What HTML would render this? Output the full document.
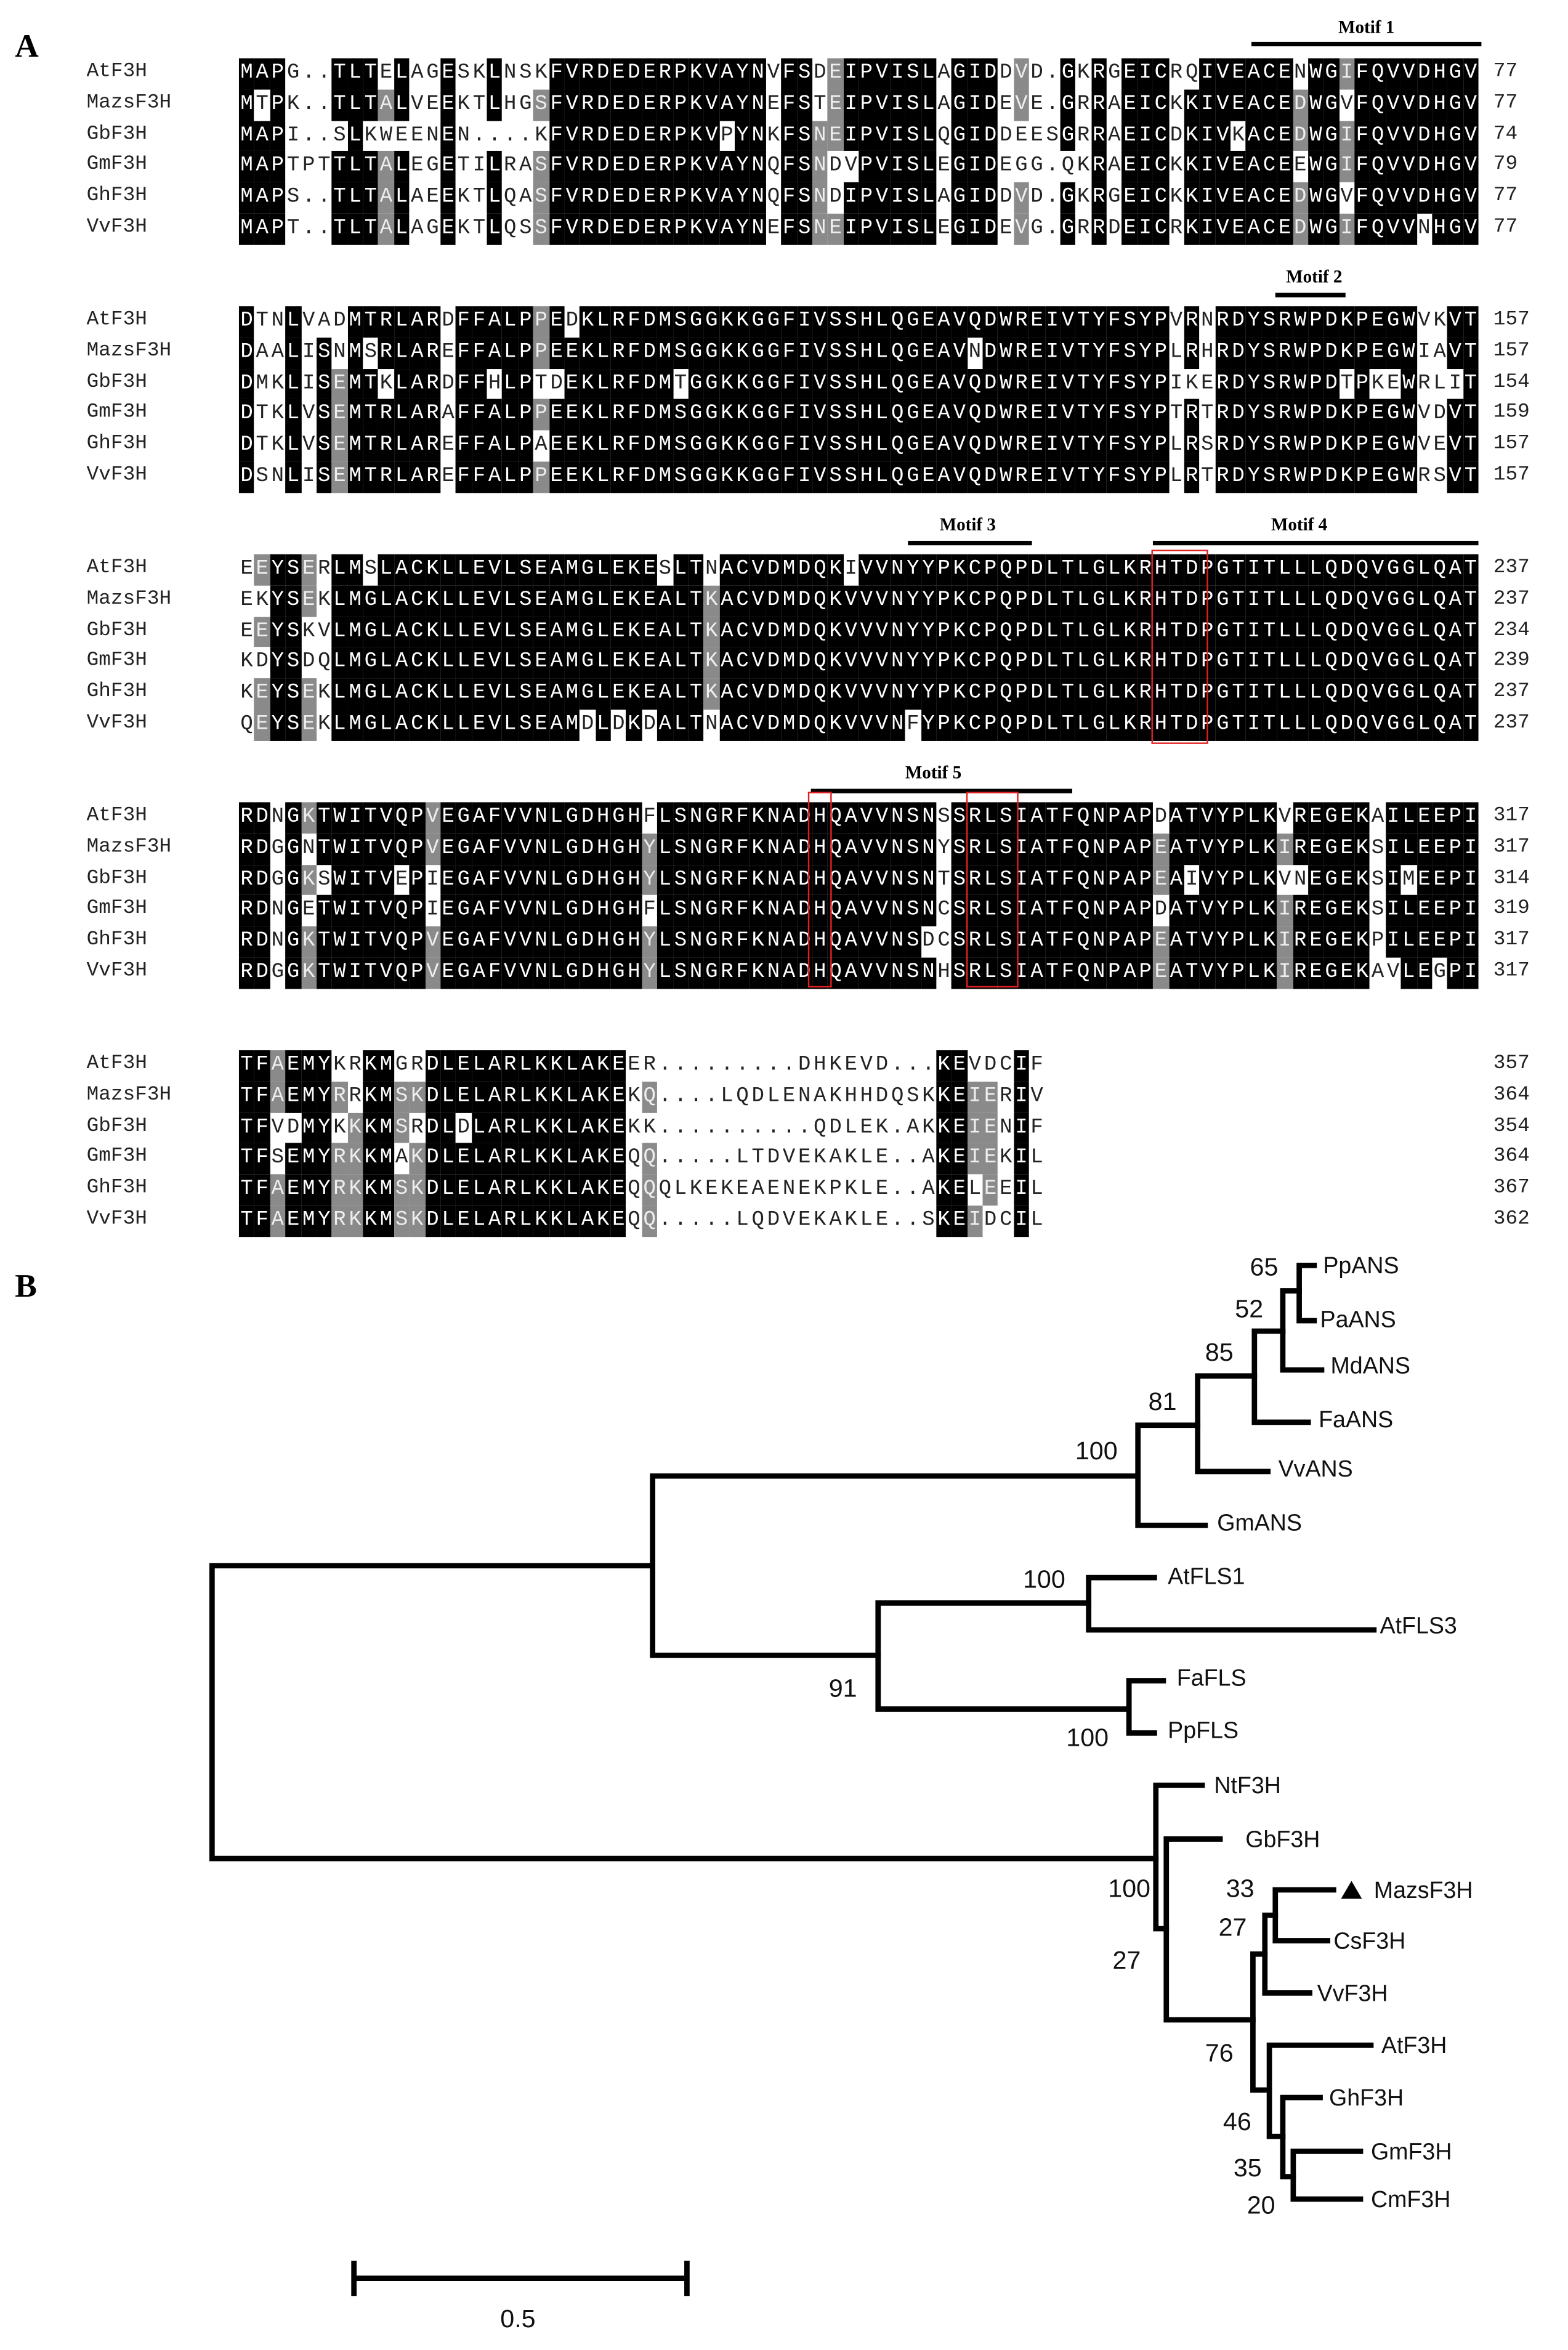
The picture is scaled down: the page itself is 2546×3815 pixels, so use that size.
<!DOCTYPE html>
<html><head><meta charset="utf-8">
<style>
html,body{margin:0;padding:0;background:#fff;}
body{width:2546px;height:3815px;overflow:hidden;position:relative;}
#w{position:absolute;left:0;top:0;width:1050px;height:1573px;transform:scale(2.4248,2.4253);transform-origin:0 0;}
.c{position:absolute;width:10.4px;height:20.8px;line-height:20.8px;text-align:center;font-family:"Liberation Mono",monospace;font-size:14px;color:#222;}
.b{background:#000;color:#fff;}
.g{background:#8a8a8a;color:#eee;}
.nm{position:absolute;left:58px;font-family:"Liberation Mono",monospace;font-size:13.5px;line-height:20.8px;color:#222;}
.num{position:absolute;left:1000px;font-family:"Liberation Mono",monospace;font-size:13.5px;line-height:20.8px;color:#222;}
.mt{position:absolute;font-family:"Liberation Serif",serif;font-weight:bold;font-size:12px;transform:translateX(-50%);white-space:nowrap;}
.ml{position:absolute;height:2.5px;background:#000;}
.rb{position:absolute;border:1.5px solid #e02020;box-sizing:border-box;}
.pl{position:absolute;font-family:"Liberation Serif",serif;font-weight:bold;font-size:22px;}
</style></head><body>
<div id="w">
<div class="pl" style="left:10px;top:18px;">A</div>
<div class="pl" style="left:10px;top:848px;">B</div>
<div id="aln"></div>

<div class="mt" style="left:915px;top:11px;">Motif 1</div><div class="ml" style="left:838px;top:28px;width:154px;"></div>
<div class="mt" style="left:880px;top:178px;">Motif 2</div><div class="ml" style="left:854px;top:196px;width:47px;"></div>
<div class="mt" style="left:648px;top:344px;">Motif 3</div><div class="ml" style="left:608px;top:362px;width:83px;"></div>
<div class="mt" style="left:870px;top:344px;">Motif 4</div><div class="ml" style="left:772px;top:362px;width:218px;"></div>
<div class="mt" style="left:625px;top:510px;">Motif 5</div><div class="ml" style="left:543px;top:528px;width:175px;"></div>
<div class="rb" style="left:771px;top:368px;width:38px;height:130px;"></div>
<div class="rb" style="left:541px;top:530px;width:16px;height:131px;"></div>
<div class="rb" style="left:647px;top:530px;width:35px;height:131px;"></div>

<svg style="position:absolute;left:0;top:0" width="1050" height="1573" viewBox="0 0 1050 1573">
<g stroke="#000" stroke-width="3.6" fill="none" stroke-linecap="square">
<path d="M142 1048V1244M142 1048H437M142 1244H774"/>
<path d="M437 988V1108M437 988H762M437 1108H588"/>
<path d="M762 954V1021M762 1021H807M762 954H802"/>
<path d="M802 921V985M802 985H849M802 921H840"/>
<path d="M840 891V952M840 952H876M840 891H859"/>
<path d="M859 864V917M859 917H885M859 864H870"/>
<path d="M870 847V884M870 847H880M870 884H880"/>
<path d="M588 1073V1144M588 1073H729M588 1144H756"/>
<path d="M729 1056V1091M729 1056H773M729 1091H920"/>
<path d="M756 1125V1160M756 1125H779M756 1160H773"/>
<path d="M774 1195V1291M774 1195H805M774 1291H781"/>
<path d="M781 1231V1352M781 1231H817M781 1352H839"/>
<path d="M839 1308V1399M839 1308H847M839 1399H850"/>
<path d="M847 1282V1334M847 1334H877M847 1282H854"/>
<path d="M854 1265V1299M854 1265H893M854 1299H889"/>
<path d="M850 1369V1430M850 1369H918M850 1430H859"/>
<path d="M859 1404V1457M859 1404H884M859 1457H866"/>
<path d="M866 1440V1472M866 1440H911M866 1472H911"/>
<path d="M237 1525H460M237 1515V1535M460 1515V1535"/>
</g>
<polygon points="898,1271 905,1259 912,1271" fill="#000"/>
<g font-family="Liberation Sans, sans-serif" font-size="15.5" fill="#111" dominant-baseline="central">
<text x="886" y="847">PpANS</text><text x="884" y="883">PaANS</text>
<text x="891" y="914">MdANS</text><text x="883" y="950">FaANS</text>
<text x="856" y="983">VvANS</text><text x="815" y="1019">GmANS</text>
<text x="782" y="1055">AtFLS1</text><text x="924" y="1088">AtFLS3</text>
<text x="788" y="1123">FaFLS</text><text x="782" y="1158">PpFLS</text>
<text x="813" y="1195">NtF3H</text><text x="834" y="1231">GbF3H</text>
<text x="920" y="1265">MazsF3H</text><text x="889" y="1299" dx="4">CsF3H</text>
<text x="882" y="1334">VvF3H</text><text x="925" y="1369">AtF3H</text>
<text x="890" y="1404">GhF3H</text><text x="918" y="1440">GmF3H</text>
<text x="918" y="1472">CmF3H</text>
</g>
<g font-family="Liberation Sans, sans-serif" font-size="17" fill="#111" dominant-baseline="central">
<text x="837" y="848">65</text><text x="827" y="876">52</text>
<text x="807" y="905">85</text><text x="769" y="938">81</text>
<text x="720" y="971">100</text><text x="685" y="1057">100</text>
<text x="555" y="1130">91</text><text x="714" y="1163">100</text>
<text x="742" y="1264">100</text><text x="745" y="1312">27</text>
<text x="821" y="1264">33</text><text x="816" y="1290">27</text>
<text x="807" y="1374">76</text><text x="819" y="1420">46</text>
<text x="826" y="1451">35</text><text x="835" y="1476">20</text>
<text x="335" y="1552">0.5</text>
</g>
</svg>
</div>
<script>
var names=["AtF3H","MazsF3H","GbF3H","GmF3H","GhF3H","VvF3H"];
var blocks=[
{top:39,nums:[77,77,74,79,77,77],s:[
"MAPG..TLTELAGESKLNSKFVRDEDERPKVAYNVFSDEIPVISLAGIDDVD.GKRGEICRQIVEACENWGIFQVVDHGV",
"MTPK..TLTALVEEKTLHGSFVRDEDERPKVAYNEFSTEIPVISLAGIDEVE.GRRAEICKKIVEACEDWGVFQVVDHGV",
"MAPI..SLKWEENEN....KFVRDEDERPKVPYNKFSNEIPVISLQGIDDEESGRRAEICDKIVKACEDWGIFQVVDHGV",
"MAPTPTTLTALEGETILRASFVRDEDERPKVAYNQFSNDVPVISLEGIDEGG.QKRAEICKKIVEACEEWGIFQVVDHGV",
"MAPS..TLTALAEEKTLQASFVRDEDERPKVAYNQFSNDIPVISLAGIDDVD.GKRGEICKKIVEACEDWGVFQVVDHGV",
"MAPT..TLTALAGEKTLQSSFVRDEDERPKVAYNEFSNEIPVISLEGIDEVG.GRRDEICRKIVEACEDWGIFQVVNHGV"]},
{top:205,nums:[157,157,154,159,157,157],s:[
"DTNLVADMTRLARDFFALPPEDKLRFDMSGGKKGGFIVSSHLQGEAVQDWREIVTYFSYPVRNRDYSRWPDKPEGWVKVT",
"DAALISNMSRLAREFFALPPEEKLRFDMSGGKKGGFIVSSHLQGEAVNDWREIVTYFSYPLRHRDYSRWPDKPEGWIAVT",
"DMKLISEMTKLARDFFHLPTDEKLRFDMTGGKKGGFIVSSHLQGEAVQDWREIVTYFSYPIKERDYSRWPDTPKEWRLIT",
"DTKLVSEMTRLARAFFALPPEEKLRFDMSGGKKGGFIVSSHLQGEAVQDWREIVTYFSYPTRTRDYSRWPDKPEGWVDVT",
"DTKLVSEMTRLAREFFALPAEEKLRFDMSGGKKGGFIVSSHLQGEAVQDWREIVTYFSYPLRSRDYSRWPDKPEGWVEVT",
"DSNLISEMTRLAREFFALPPEEKLRFDMSGGKKGGFIVSSHLQGEAVQDWREIVTYFSYPLRTRDYSRWPDKPEGWRSVT"]},
{top:371,nums:[237,237,234,239,237,237],s:[
"EEYSERLMSLACKLLEVLSEAMGLEKESLTNACVDMDQKIVVNYYPKCPQPDLTLGLKRHTDPGTITLLLQDQVGGLQAT",
"EKYSEKLMGLACKLLEVLSEAMGLEKEALTKACVDMDQKVVVNYYPKCPQPDLTLGLKRHTDPGTITLLLQDQVGGLQAT",
"EEYSKVLMGLACKLLEVLSEAMGLEKEALTKACVDMDQKVVVNYYPKCPQPDLTLGLKRHTDPGTITLLLQDQVGGLQAT",
"KDYSDQLMGLACKLLEVLSEAMGLEKEALTKACVDMDQKVVVNYYPKCPQPDLTLGLKRHTDPGTITLLLQDQVGGLQAT",
"KEYSEKLMGLACKLLEVLSEAMGLEKEALTKACVDMDQKVVVNYYPKCPQPDLTLGLKRHTDPGTITLLLQDQVGGLQAT",
"QEYSEKLMGLACKLLEVLSEAMDLDKDALTNACVDMDQKVVVNFYPKCPQPDLTLGLKRHTDPGTITLLLQDQVGGLQAT"]},
{top:537,nums:[317,317,314,319,317,317],s:[
"RDNGKTWITVQPVEGAFVVNLGDHGHFLSNGRFKNADHQAVVNSNSSRLSIATFQNPAPDATVYPLKVREGEKAILEEPI",
"RDGGNTWITVQPVEGAFVVNLGDHGHYLSNGRFKNADHQAVVNSNYSRLSIATFQNPAPEATVYPLKIREGEKSILEEPI",
"RDGGKSWITVEPIEGAFVVNLGDHGHYLSNGRFKNADHQAVVNSNTSRLSIATFQNPAPEAIVYPLKVNEGEKSIMEEPI",
"RDNGETWITVQPIEGAFVVNLGDHGHFLSNGRFKNADHQAVVNSNCSRLSIATFQNPAPDATVYPLKIREGEKSILEEPI",
"RDNGKTWITVQPVEGAFVVNLGDHGHYLSNGRFKNADHQAVVNSDCSRLSIATFQNPAPEATVYPLKIREGEKPILEEPI",
"RDGGKTWITVQPVEGAFVVNLGDHGHYLSNGRFKNADHQAVVNSNHSRLSIATFQNPAPEATVYPLKIREGEKAVLEGPI"]},
{top:703,nums:[357,364,354,364,367,362],s:[
"TFAEMYKRKMGRDLELARLKKLAKEER.........DHKEVD...KEVDCIF",
"TFAEMYRRKMSKDLELARLKKLAKEKQ....LQDLENAKHHDQSKKEIERIV",
"TFVDMYKKKMSRDLDLARLKKLAKEKK..........QDLEK.AKKEIENIF",
"TFSEMYRKKMAKDLELARLKKLAKEQQ.....LTDVEKAKLE..AKEIEKIL",
"TFAEMYRKKMSKDLELARLKKLAKEQQQLKEKEAENEKPKLE..AKELEEIL",
"TFAEMYRKKMSKDLELARLKKLAKEQQ.....LQDVEKAKLE..SKEIDCIL"]}
];
var h="";
blocks.forEach(function(b){
  var L=b.s[0].length;
  for(var r=0;r<6;r++){
    var y=b.top+r*20.8;
    h+='<div class="nm" style="top:'+y+'px">'+names[r]+'</div>';
    h+='<div class="num" style="top:'+y+'px">'+b.nums[r]+'</div>';
  }
  for(var c=0;c<L;c++){
    var cnt={},best='',bc=0;
    for(var r=0;r<6;r++){var ch=b.s[r][c]||'.';if(ch!='.'){cnt[ch]=(cnt[ch]||0)+1;if(cnt[ch]>bc){bc=cnt[ch];best=ch;}}}
    for(var r=0;r<6;r++){
      var ch=b.s[r][c]||' ';
      var cls='c';
      if(ch==best&&bc>=5)cls+=' b';
      else if(ch==best&&bc==4)cls+=' g';
      h+='<div class="'+cls+'" style="left:'+(160+c*10.375)+'px;top:'+(b.top+r*20.8)+'px">'+ch+'</div>';
    }
  }
});
document.getElementById('aln').innerHTML=h;
</script>
</body></html>
